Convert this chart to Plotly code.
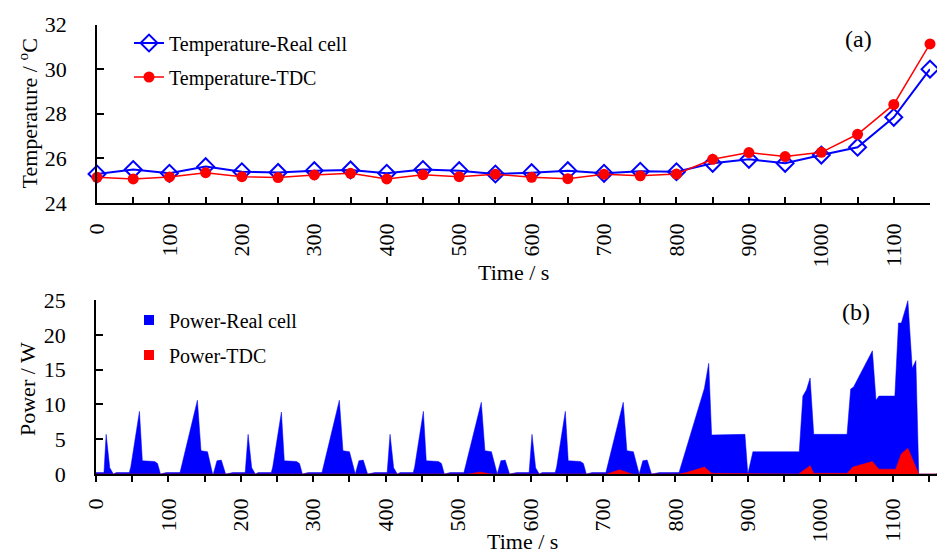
import plotly.graph_objects as go

# ---- data: temperature (top panel) ----
time_temp = [0, 50, 100, 150, 200, 250, 300, 350, 400, 450, 500, 550,
             600, 650, 700, 750, 800, 850, 900, 950, 1000, 1050, 1100, 1150]
temp_real = [25.30, 25.50, 25.33, 25.63, 25.40, 25.37, 25.45, 25.48, 25.33, 25.50, 25.45, 25.30,
             25.36, 25.45, 25.33, 25.42, 25.40, 25.78, 25.96, 25.78, 26.15, 26.50, 27.84, 30.00]
temp_tdc = [25.15, 25.08, 25.17, 25.36, 25.18, 25.14, 25.26, 25.33, 25.08, 25.27, 25.18, 25.29,
            25.15, 25.09, 25.29, 25.22, 25.30, 25.96, 26.26, 26.08, 26.27, 27.08, 28.42, 31.13]

# ---- data: power (bottom panel) ----
time_power = [0, 11, 14, 19, 24, 28, 46, 48, 60, 64, 81, 85, 89, 97, 116, 140, 145, 154, 161, 162, 167, 173, 179, 189, 206,
              210, 215, 220, 224, 242, 244, 256, 260, 277, 281, 285, 293, 312, 336, 341, 350, 357, 358, 363, 369, 375, 385, 402,
              406, 411, 416, 420, 438, 440, 452, 456, 473, 477, 481, 489, 508, 532, 537, 546, 553, 554, 559, 565, 571, 581, 598,
              602, 607, 612, 616, 634, 636, 648, 652, 669, 673, 677, 685, 704, 728, 733, 742, 749, 750, 755, 761, 767, 778, 805,
              820, 840, 846, 850, 896, 900, 907, 971, 976, 981, 986, 991, 1037, 1042, 1046, 1072, 1077, 1081, 1103, 1108, 1112,
              1121, 1127, 1132, 1136, 1160, 1165, 1168, 1175]
power_real = [0.2, 0.2, 5.7, 0.9, 0, 0.2, 0.2, 1.0, 9.0, 1.9, 1.8, 1.5, 0, 0.2, 0.2, 10.6, 3.35, 3.2, 0, 0, 1.9, 2.0, 0, 0.2, 0.2,
              5.7, 0.9, 0, 0.2, 0.2, 1.0, 8.9, 1.9, 1.8, 1.5, 0, 0.2, 0.2, 10.6, 3.35, 3.2, 0, 0, 1.9, 2.0, 0, 0.2, 0.2,
              5.7, 0.9, 0, 0.2, 0.2, 1.0, 9.0, 1.9, 1.8, 1.5, 0, 0.2, 0.2, 10.3, 3.35, 3.2, 0, 0, 1.9, 2.0, 0, 0.2, 0.2,
              5.7, 0.9, 0, 0.2, 0.2, 1.0, 9.0, 1.9, 1.8, 1.5, 0, 0.2, 0.2, 10.3, 3.35, 3.2, 0, 0, 1.9, 2.0, 0, 0.2, 0.2,
              5.4, 12.3, 15.9, 5.6, 5.7, 0, 3.2, 3.2, 11.2, 12.1, 13.8, 5.7, 5.7, 12.2, 12.5, 17.7, 10.6, 11.2, 11.2, 21.7, 21.7,
              24.9, 15.2, 16.3, 0, 0, 0.3, 0, 0]
time_power_tdc = [0, 515, 530, 545, 705, 723, 740, 805, 815, 840, 850, 896, 900, 970, 986, 991, 1037, 1045, 1072, 1081,
                  1104, 1112, 1121, 1127, 1136, 1175]
power_tdc = [0, 0, 0.3, 0, 0, 0.6, 0, 0, 0.2, 1.0, 0.1, 0.1, 0, 0, 1.2, 0.1, 0.1, 1.0, 1.8, 0.7,
             0.7, 2.9, 3.7, 2.1, 0, 0]

W, H = 945, 556
OFF = 8  # page body margin offset
FONT = "Liberation Serif, Times New Roman, serif"
BLUE = "#0000FF"
RED = "#FF0000"

def px(xp):
    return (xp - OFF) / W

def py(yp):
    return 1 - (yp - OFF) / H

fig = go.Figure()

fig.add_trace(go.Scatter(x=time_temp, y=temp_real, mode="lines+markers", name="Temperature-Real cell",
                         line=dict(color=BLUE, width=2),
                         marker=dict(symbol="diamond-open", size=13, color=BLUE, line=dict(width=2, color=BLUE)),
                         cliponaxis=False, xaxis="x", yaxis="y", legend="legend"))
fig.add_trace(go.Scatter(x=time_temp, y=temp_tdc, mode="lines+markers", name="Temperature-TDC",
                         line=dict(color=RED, width=1.5),
                         marker=dict(symbol="circle", size=11, color=RED),
                         cliponaxis=False, xaxis="x", yaxis="y", legend="legend2"))

fig.add_trace(go.Scatter(x=time_power, y=power_real, mode="lines", fill="tozeroy", name="Power-Real cell",
                         line=dict(color=BLUE, width=0.5), fillcolor=BLUE, showlegend=False,
                         xaxis="x2", yaxis="y2"))
fig.add_trace(go.Scatter(x=time_power_tdc, y=power_tdc, mode="lines", fill="tozeroy", name="Power-TDC",
                         line=dict(color=RED, width=0.5), fillcolor=RED, showlegend=False,
                         xaxis="x2", yaxis="y2"))
# legend entries for area series (square swatches)
fig.add_trace(go.Scatter(x=[None], y=[None], mode="markers", name="Power-Real cell",
                         marker=dict(symbol="square", size=10, color=BLUE), xaxis="x2", yaxis="y2",
                         legend="legend3"))
fig.add_trace(go.Scatter(x=[None], y=[None], mode="markers", name="Power-TDC",
                         marker=dict(symbol="square", size=10, color=RED), xaxis="x2", yaxis="y2",
                         legend="legend4"))

axis_common = dict(showgrid=False, zeroline=False, showline=True, linecolor="black", linewidth=1.5,
                   tickcolor="black", tickwidth=1.5, automargin=False,
                   tickfont=dict(family=FONT, size=22, color="black"))

legend_common = dict(font=dict(family=FONT, size=20, color="black"), bgcolor="rgba(0,0,0,0)",
                     xanchor="left", yanchor="middle", borderwidth=0)

def note(text, x, y, size=22, angle=0):
    return dict(text=text, x=px(x), y=py(y), xref="paper", yref="paper", showarrow=False,
                xanchor="center", yanchor="middle", textangle=angle,
                font=dict(family=FONT, size=size, color="black"))

fig.update_layout(
    width=W, height=H,
    margin=dict(l=0, r=0, t=0, b=0, autoexpand=False),
    paper_bgcolor="white", plot_bgcolor="white",
    font=dict(family=FONT, size=22, color="black"),
    xaxis=dict(domain=[px(97), px(930)], range=[0, 1150], anchor="y",
               tickmode="linear", tick0=0, dtick=100,
               ticks="inside", ticklen=6, tickangle=-90, ticklabelstandoff=10,
               minor=dict(dtick=50, ticks="inside", ticklen=6, tickcolor="black", tickwidth=1.5),
               **axis_common),
    yaxis=dict(domain=[py(203), py(24.5)], range=[24, 32], anchor="x",
               tickmode="linear", tick0=24, dtick=2,
               ticks="inside", ticklen=7, ticklabelstandoff=24, **axis_common),
    xaxis2=dict(domain=[px(96), px(947)], range=[0, 1175], anchor="y2",
                tickmode="linear", tick0=0, dtick=100,
                ticks="outside", ticklen=6, tickangle=-90, ticklabelstandoff=8,
                minor=dict(dtick=50, ticks="outside", ticklen=6, tickcolor="black", tickwidth=1.5),
                **axis_common),
    yaxis2=dict(domain=[py(474), py(300)], range=[0, 25], anchor="x2",
                tickmode="linear", tick0=0, dtick=5,
                ticks="inside", ticklen=7, ticklabelstandoff=24, **axis_common),
    legend=dict(x=px(129), y=py(43), **legend_common),
    legend2=dict(x=px(129), y=py(77), **legend_common),
    legend3=dict(x=px(129), y=py(320), **legend_common),
    legend4=dict(x=px(129), y=py(355), **legend_common),
    annotations=[
        note("Temperature / <sup>o</sup>C", 27, 113.5, angle=-90),
        note("Time / s", 514, 273),
        note("Power / W", 27, 389, angle=-90),
        note("Time / s", 522, 541),
        note("(a)", 858, 39, size=24),
        note("(b)", 856, 312, size=24),
    ],
)

fig.write_html("out.html")
